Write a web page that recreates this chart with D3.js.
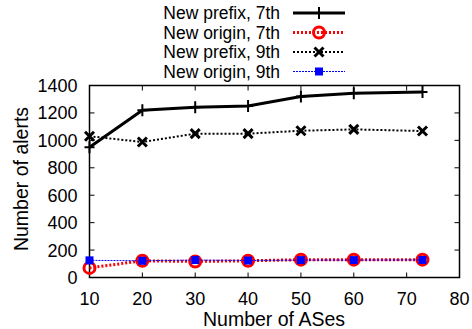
<!DOCTYPE html>
<html><head><meta charset="utf-8">
<script src="https://cdn.jsdelivr.net/npm/d3@7"></script>
<style>body{margin:0;background:#fff}svg{display:block}text{font-family:"Liberation Sans",Arial,sans-serif;fill:#000}</style>
</head><body><svg id="c" width="472" height="329"></svg>
<script>
const xs = [10, 20, 30, 40, 50, 60, 73];
const prefix7 = [950, 1220, 1242, 1250, 1320, 1344, 1352];
const origin7 = [70, 122, 117, 122, 130, 130, 130];
const prefix9 = [1030, 988, 1049, 1049, 1070, 1080, 1068];
const origin9 = [125, 122, 127, 124, 127, 127, 128];
const xTicks = [10, 20, 30, 40, 50, 60, 70, 80];
const yTicks = [0, 200, 400, 600, 800, 1000, 1200, 1400];
const names = ["New prefix, 7th", "New origin, 7th", "New prefix, 9th", "New origin, 9th"];

const svg = d3.select("#c");
const L = 89.5, R = 459.5, T = 85.5, B = 277.5;
const x = d3.scaleLinear().domain([10, 80]).range([L, R]);
const y = d3.scaleLinear().domain([0, 1400]).range([B, T]);
const fs = "18px";
const fsL = "17.5px";
const fsT = "19.5px";

const series = [
  {name: names[0], vals: prefix7, color: "#000", w: 3, dash: null, marker: "plus"},
  {name: names[1], vals: origin7, color: "#f00", w: 3, dash: "2,2", marker: "circle"},
  {name: names[2], vals: prefix9, color: "#000", w: 2, dash: "2,2", marker: "cross"},
  {name: names[3], vals: origin9, color: "#00f", w: 1, dash: "2,1", marker: "square"}
];

const tk = 5;
const g = svg.append("g").attr("stroke", "#000").attr("stroke-width", 1);
yTicks.forEach(v => {
  g.append("line").attr("x1", L).attr("x2", L + tk).attr("y1", y(v)).attr("y2", y(v));
  g.append("line").attr("x1", R).attr("x2", R - tk).attr("y1", y(v)).attr("y2", y(v));
});
xTicks.forEach(v => {
  g.append("line").attr("x1", x(v)).attr("x2", x(v)).attr("y1", B).attr("y2", B - tk);
  g.append("line").attr("x1", x(v)).attr("x2", x(v)).attr("y1", T).attr("y2", T + tk);
});
svg.append("rect").attr("x", L).attr("y", T).attr("width", R - L).attr("height", B - T)
  .attr("fill", "none").attr("stroke", "#000").attr("stroke-width", 1.5);

svg.selectAll(".yl").data(yTicks).enter().append("text")
  .attr("x", L - 12).attr("y", d => y(d)).attr("dy", "0.36em").attr("text-anchor", "end")
  .style("font-size", fs).text(d => d);
svg.selectAll(".xl").data(xTicks).enter().append("text")
  .attr("x", d => x(d)).attr("y", 305).attr("text-anchor", "middle")
  .style("font-size", fs).text(d => d);
svg.append("text").attr("x", 274).attr("y", 326).attr("text-anchor", "middle")
  .style("font-size", fsT).text("Number of ASes");
svg.append("text").attr("transform", "translate(27.5,179) rotate(-90)")
  .attr("text-anchor", "middle").style("font-size", fsT).text("Number of alerts");

function marker(sel, type, color, cx, cy) {
  if (type === "plus") {
    sel.append("path").attr("d", `M${cx-5},${cy}H${cx+5}M${cx},${cy-6}V${cy+6}`)
      .attr("stroke", color).attr("stroke-width", 2).attr("fill", "none");
  } else if (type === "circle") {
    sel.append("circle").attr("cx", cx).attr("cy", cy).attr("r", 5.5)
      .attr("stroke", color).attr("stroke-width", 3).attr("fill", "none");
  } else if (type === "cross") {
    sel.append("path").attr("d", `M${cx-4.5},${cy-4.5}L${cx+4.5},${cy+4.5}M${cx-4.5},${cy+4.5}L${cx+4.5},${cy-4.5}`)
      .attr("stroke", color).attr("stroke-width", 3).attr("fill", "none");
  } else if (type === "square") {
    sel.append("rect").attr("x", cx - 4).attr("y", cy - 4).attr("width", 8).attr("height", 8)
      .attr("fill", color);
  }
}

const line = d3.line().x((d, i) => x(xs[i])).y(d => y(d));
series.forEach(s => {
  svg.append("path").attr("d", line(s.vals)).attr("fill", "none")
    .attr("stroke", s.color).attr("stroke-width", s.w).attr("stroke-dasharray", s.dash);
  const mg = svg.append("g");
  s.vals.forEach((v, i) => marker(mg, s.marker, s.color, x(xs[i]), y(v)));
});

series.forEach((s, i) => {
  const ly = 13 + i * 19.5;
  svg.append("text").attr("x", 280).attr("y", ly).attr("dy", "0.36em").attr("text-anchor", "end")
    .style("font-size", fsL).text(s.name);
  svg.append("line").attr("x1", 293).attr("x2", 345).attr("y1", ly).attr("y2", ly)
    .attr("stroke", s.color).attr("stroke-width", s.w).attr("stroke-dasharray", s.dash);
  marker(svg, s.marker, s.color, 319, ly);
});
</script></body></html>
